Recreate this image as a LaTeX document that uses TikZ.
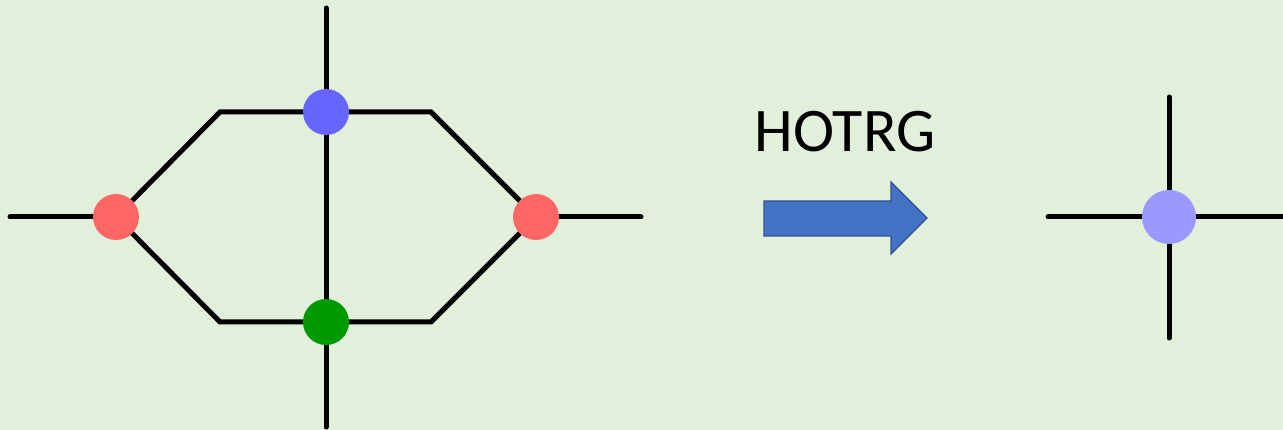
\documentclass[tikz,border=0pt]{standalone}
\usepackage{fontspec}
\setmainfont{Carlito}
\usetikzlibrary{backgrounds}
\definecolor{bg}{HTML}{E2EFDA}
\definecolor{tred}{HTML}{FF6666}
\definecolor{tblue}{HTML}{6666FF}
\definecolor{tgreen}{HTML}{009900}
\definecolor{tlav}{HTML}{9999FF}
\definecolor{afill}{HTML}{4472C4}
\definecolor{aedge}{HTML}{2F528F}
\begin{document}
\begin{tikzpicture}[x=1pt,y=-1pt,
  leg/.style={line width=5pt,line cap=round,line join=miter},
  tensor/.style={circle,inner sep=0pt,minimum size=#1},
  tensor/.default=46pt]
\useasboundingbox (0,0) rectangle (1283,430);
% left network
\coordinate (L) at (10,217);
\coordinate (R) at (641,217);
\coordinate (T) at (326,8);
\coordinate (B) at (326,427);
\coordinate (tl) at (220,112);
\coordinate (tr) at (431,112);
\coordinate (bl) at (220,322);
\coordinate (br) at (431,322);
\node[tensor,fill=tred] (r1) at (116,217) {};
\node[tensor,fill=tred] (r2) at (536,217) {};
\node[tensor,fill=tblue] (b) at (326,112) {};
\node[tensor,fill=tgreen] (g) at (326,322) {};
% text and arrow
\node[font=\fontsize{62}{70}\selectfont,anchor=base] (lab) at (845,152) {HOTRG};
\draw[fill=afill,draw=aedge,line width=1.2pt,line join=miter]
  (764,201) -- (891,201) -- (891,182) -- (927,218) -- (891,254) -- (891,236) -- (764,236) -- cycle;
% right tensor
\coordinate (RL) at (1048,217);
\coordinate (RR) at (1290,217);
\coordinate (RT) at (1169,97);
\coordinate (RB) at (1169,338);
\node[tensor=54pt,fill=tlav] (res) at (1169,217) {};
\begin{pgfonlayer}{background}
\fill[bg] (0,0) rectangle (1283,430);
\draw[leg] (L) -- (r1.center);
\draw[leg] (r2.center) -- (R);
\draw[leg] (T) -- (b.center) -- (g.center) -- (B);
\draw[leg] (r1.center) -- (tl) -- (b.center) -- (tr) -- (r2.center);
\draw[leg] (r1.center) -- (bl) -- (g.center) -- (br) -- (r2.center);
\draw[leg] (RL) -- (res.center) -- (RR);
\draw[leg] (RT) -- (res.center) -- (RB);
\end{pgfonlayer}
\end{tikzpicture}
\end{document}
